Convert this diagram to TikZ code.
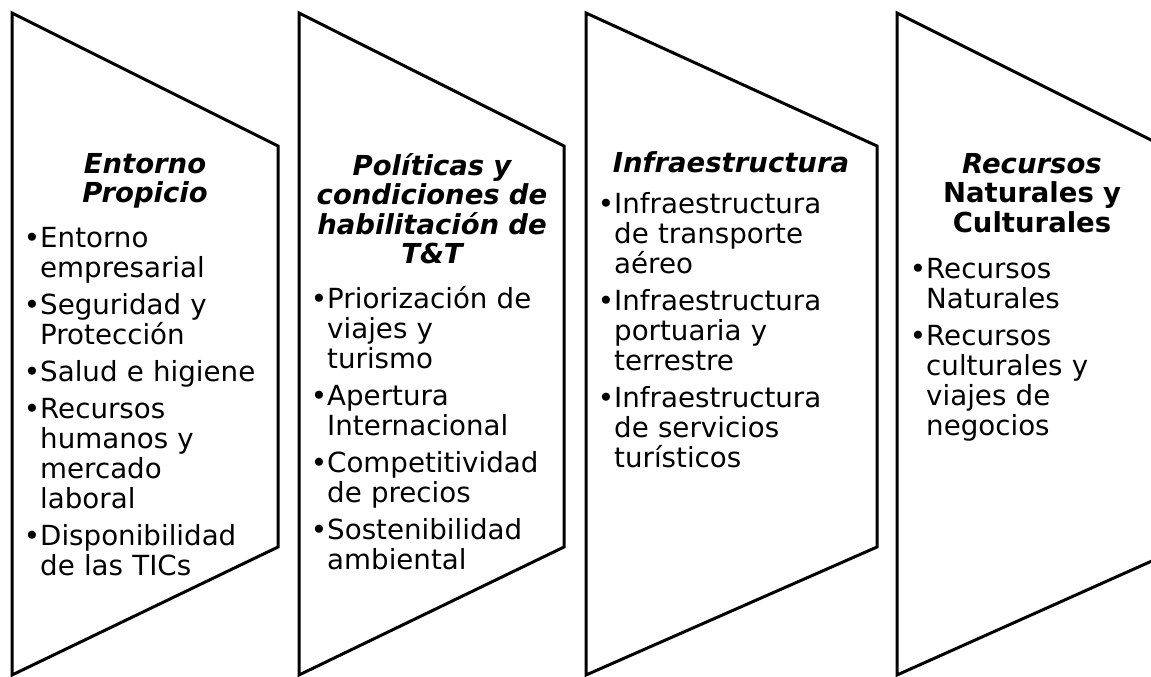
\documentclass[tikz,border=0pt]{standalone}
\usepackage{fontspec}
\setmainfont{DejaVu Sans}
\newcommand{\blt}{\leavevmode\llap{•}}
\begin{document}
\begin{tikzpicture}[x=1pt,y=-1pt,
  shapeline/.style={line width=3pt, line join=miter, draw=black},
  titletext/.style={anchor=base, inner sep=0pt, align=center, text width=262pt,
    font=\fontsize{27.5}{29.5}\selectfont\bfseries\itshape},
  bodytext/.style={anchor=base west, inner sep=0pt, align=left, text width=250pt,
    font=\fontsize{27.7}{30}\selectfont}]
\useasboundingbox (0,0) rectangle (1151,677);
\fill[white] (0,0) rectangle (1151,677);
\clip (0,0) rectangle (1151,677);

% shapes
\draw[shapeline] (12,13) coordinate (a1) -- (278,146) coordinate (b1) -- (278,547) coordinate (c1) -- (12,675) coordinate (d1) -- cycle;
\draw[shapeline] (299,13) coordinate (a2) -- (564,146) coordinate (b2) -- (564,547) coordinate (c2) -- (299,675) coordinate (d2) -- cycle;
\draw[shapeline] (586,13) coordinate (a3) -- (877,146) coordinate (b3) -- (877,547) coordinate (c3) -- (586,675) coordinate (d3) -- cycle;
\draw[shapeline] (897,13) coordinate (a4) -- (1163,146) coordinate (b4) -- (1163,556) coordinate (c4) -- (897,675) coordinate (d4) -- cycle;

% titles
\node[titletext] (t1) at (145,173) {Entorno\\Propicio};
\node[titletext] (t2) at (432,175) {Políticas y\\condiciones de\\habilitación de\\T\&T};
\node[titletext] (t3) at (731,172) {Infraestructura};
\node[titletext] (t4) at (1032,173) {Recursos\\{\upshape Naturales y}\\{\upshape Culturales}};

% bodies
\node[bodytext] (l1) at (40,247) {\blt Entorno\\empresarial\\[7pt]\blt Seguridad y\\Protección\\[7pt]\blt Salud e higiene\\[7pt]\blt Recursos\\humanos y\\mercado\\laboral\\[7pt]\blt Disponibilidad\\de las TICs};
\node[bodytext] (l2) at (327,308) {\blt Priorización de\\viajes y\\turismo\\[7pt]\blt Apertura\\Internacional\\[7pt]\blt Competitividad\\de precios\\[7pt]\blt Sostenibilidad\\ambiental};
\node[bodytext] (l3) at (614,213) {\blt Infraestructura\\de transporte\\aéreo\\[7pt]\blt Infraestructura\\portuaria y\\terrestre\\[7pt]\blt Infraestructura\\de servicios\\turísticos};
\node[bodytext] (l4) at (926,278) {\blt Recursos\\Naturales\\[7pt]\blt Recursos\\culturales y\\viajes de\\negocios};
\end{tikzpicture}
\end{document}
